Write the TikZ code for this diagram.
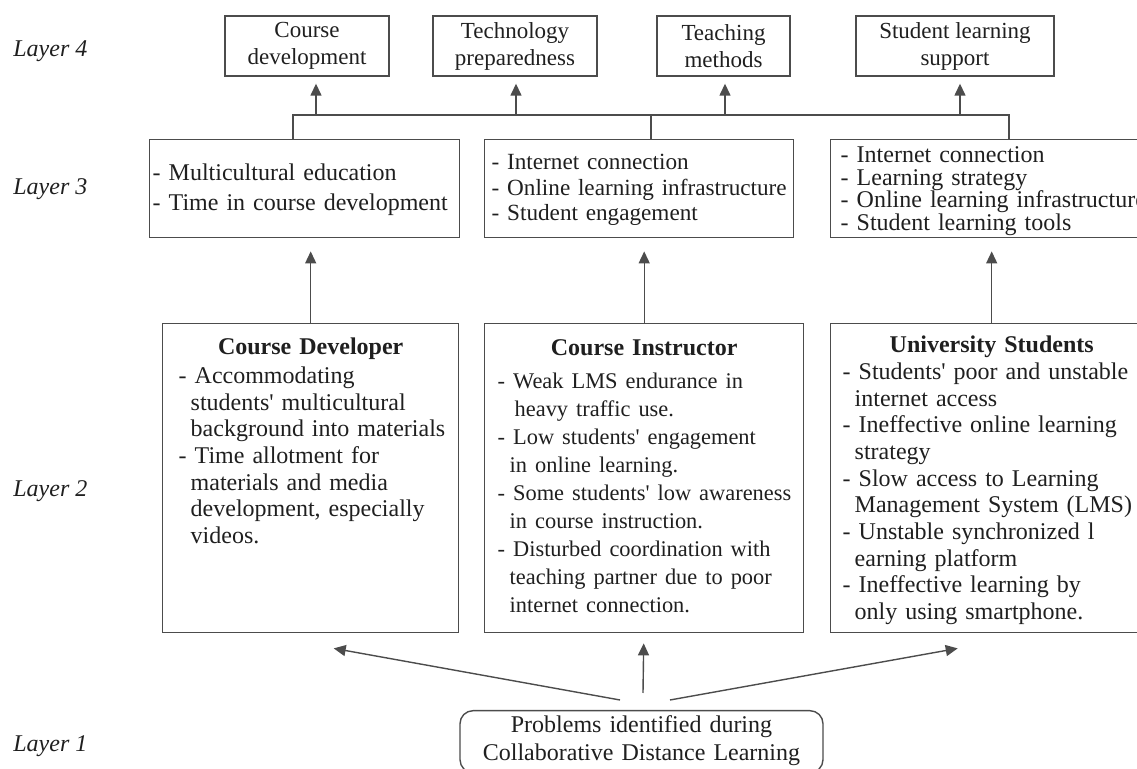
\documentclass[tikz,border=0pt]{standalone}
\usepackage{fontspec}
\setmainfont{Liberation Serif}[Ligatures=TeXOff]
\usetikzlibrary{positioning}
\usetikzlibrary{arrows.meta}
\colorlet{lineC}{black!70}
\colorlet{inkC}{black!88}
\newcommand{\hg}{\hspace*{6pt}}

\begin{document}
\begin{tikzpicture}[x=0.5pt,y=-0.5pt,
  box/.style={draw=lineC,line width=0.7pt,inner ysep=0pt,align=left,text=inkC},
  topbox/.style={draw=lineC,line width=0.7pt,minimum height=30pt,inner sep=0pt,align=center,text=inkC,
    font=\fontsize{11.5}{13.5}\selectfont},
  lay/.style={anchor=base west,inner sep=0pt,text=inkC,font=\fontsize{12}{14}\selectfont\itshape},
  link/.style={draw=lineC,line width=0.7pt},
  arr/.style={link,-{Triangle[length=6pt,width=5.5pt]}}]
\useasboundingbox (0,0) rectangle (1137,769);
\clip (0,0) rectangle (1137,769);

% layer names
\node[lay] (labfour) at (13,57) {Layer 4};
\node[lay] (labthree) at (13,195) {Layer 3};
\node[lay] (labtwo) at (13,497) {Layer 2};
\node[lay] (labone) at (13,752) {Layer 1};

% layer 4
\node[topbox,minimum width=82pt] (cdev) at (307,46) {Course\\development};
\node[topbox,minimum width=82pt] (tprep) at (515,46) {Technology\\preparedness};
\node[topbox,minimum width=66.5pt] (tmeth) at (723.5,46) {Teaching\\methods};
\node[topbox,minimum width=99pt] (slsup) at (955,46) {Student learning\\support};

% layer 3
\node[box,anchor=north west,inner xsep=1.5pt,text width=152pt,text height=20.5pt,text depth=28.5pt,
  font=\fontsize{12}{15}\selectfont] (lthreeA) at (149,139)
{- Multicultural education\\\mbox{- Time in course development}};
\node[box,anchor=north west,inner xsep=3.5pt,text width=147.5pt,text height=15pt,text depth=34pt,
  font=\fontsize{11.6}{12.75}\selectfont] (lthreeB) at (484,139)
{- Internet connection\\\mbox{- Online learning infrastructure}\\- Student engagement};
\node[box,anchor=north west,inner xsep=5pt,text width=151pt,text height=11.5pt,text depth=37.5pt,
  font=\fontsize{12}{11.3}\selectfont] (lthreeC) at (830,139)
{- Internet connection\\- Learning strategy\\\mbox{- Online learning infrastructure}\\- Student learning tools};

% layer 2
\node[box,anchor=north west,inner xsep=8pt,text width=132pt,text height=15.5pt,text depth=139pt,
  font=\fontsize{12}{13.3}\selectfont] (devbox) at (162,323)
{\makebox[\linewidth]{\bfseries Course Developer}\\[1.2pt]
- Accommodating\\ \hg students' multicultural\\ \hg\mbox{background into materials}\\
- Time allotment for\\ \hg materials and media\\ \hg\mbox{development, especially}\\ \hg videos.};
\node[box,anchor=north west,inner xsep=6.5pt,text width=146.5pt,text height=16pt,text depth=138.5pt,
  font=\fontsize{12}{14}\selectfont] (instbox) at (484,323)
{\makebox[\linewidth]{\bfseries Course Instructor}\\[2.5pt]\fontsize{11.2}{14}\selectfont
- Weak LMS endurance in\\ \hspace*{8.5pt}heavy traffic use.\\
\mbox{- Low students' engagement}\\ \hg in online learning.\\
\mbox{- Some students' low awareness}\\ \hg in course instruction.\\
\mbox{- Disturbed coordination with}\\ \hg\mbox{teaching partner due to poor}\\ \hg internet connection.};
\node[box,anchor=north west,inner xsep=6pt,text width=149pt,text height=14.5pt,text depth=140pt,
  font=\fontsize{12}{13.35}\selectfont] (studbox) at (830,323)
{\makebox[\linewidth]{\bfseries University Students}\\
\mbox{- Students' poor and unstable}\\ \hg internet access\\
\mbox{- Ineffective online learning}\\ \hg strategy\\
- Slow access to Learning\\ \hg\mbox{Management System (LMS)}\\
- Unstable synchronized l\\ \hg earning platform\\
- Ineffective learning by\\ \hg\mbox{only using smartphone.}};

% layer 1
\node[box,anchor=north,rounded corners=6.5pt,align=center,inner xsep=5pt,text width=171.5pt,
  text height=11pt,text depth=20pt,font=\fontsize{12}{14}\selectfont] (probbox) at (641.5,710)
{Problems identified during\\Collaborative Distance Learning};

% layer 3 -> layer 4
\coordinate (busA) at (293,115);
\coordinate (busB) at (651,115);
\coordinate (busC) at (1009,115);
\draw[link] (busA |- lthreeA.north) -- (busA) -- (busC) -- (busC |- lthreeC.north);
\draw[link] (busB) -- (busB |- lthreeB.north);
\coordinate (upA) at (316,115);
\coordinate (upB) at (516,115);
\coordinate (upC) at (725,115);
\coordinate (upD) at (960,115);
\draw[arr,shorten >=3.5pt] (upA) -- (upA |- cdev.south);
\draw[arr,shorten >=3.5pt] (upB) -- (upB |- tprep.south);
\draw[arr,shorten >=3.5pt] (upC) -- (upC |- tmeth.south);
\draw[arr,shorten >=3.5pt] (upD) -- (upD |- slsup.south);

% layer 2 -> layer 3
\draw[arr,shorten >=6.5pt] (devbox.north) -- (devbox.north |- lthreeA.south);
\draw[arr,shorten >=6.5pt] (instbox.north) -- (instbox.north |- lthreeB.south);
\draw[arr,shorten >=6.5pt] (studbox.north) -- (studbox.north |- lthreeC.south);

% layer 1 -> layer 2
\draw[arr] ([xshift=-10.75pt,yshift=5pt]probbox.north) -- ([xshift=11.5pt,yshift=-7.5pt]devbox.south);
\draw[arr] ([xshift=0.75pt,yshift=8.5pt]probbox.north) -- ([xshift=-0.25pt,yshift=-5pt]instbox.south);
\draw[arr] ([xshift=14.25pt,yshift=5pt]probbox.north) -- ([xshift=-17pt,yshift=-7.5pt]studbox.south);

\end{tikzpicture}
\end{document}
